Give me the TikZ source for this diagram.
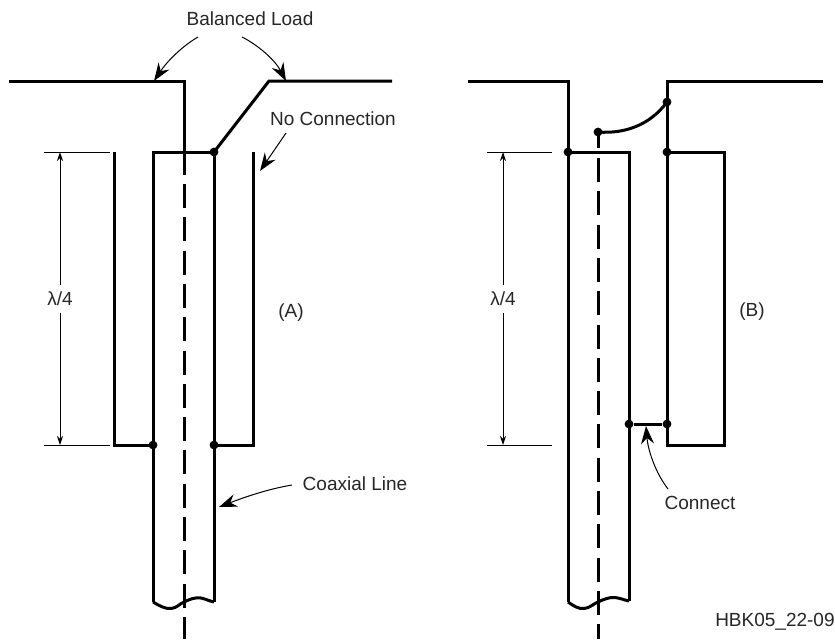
\documentclass[tikz,border=0pt]{standalone}
\usepackage{fontspec}
\setmainfont{Liberation Sans}
\usetikzlibrary{arrows.meta}
\tikzset{every picture/.style={line width=0.75pt}}
\tikzset{
  wall/.style={line width=1.5pt,line join=miter},
  centre/.style={line width=1.5pt,dash pattern=on 12pt off 4.65pt},
  thin line/.style={line width=0.5pt},
  dimline/.style={line width=0.5pt,-{Stealth[length=4.5pt,width=3pt]}},
  callout/.style={line width=0.5pt,-{Stealth[length=9pt,width=6.5pt,inset=3pt]}},
  joint/.style={circle,fill=black,inner sep=0pt,minimum size=4.4pt},
  caption/.style={font=\fontsize{9.5}{11}\selectfont,text=black!85,inner sep=0.75pt},
}

\begin{document}
\begin{tikzpicture}[x=0.5pt,y=0.5pt,yscale=-1,xscale=1]
\useasboundingbox (0,0) rectangle (835,639);

% Diagram A
%Load and inner conductor
\draw [wall] (9,81) -- (184,81) -- (184,175) ;
\draw [centre] (184,184) -- (184,639) ;
\draw [wall] (392,81) -- (269,81) -- (214,152) ;
%Coaxial line
\draw [wall] (153,602) -- (153,152) -- (214,152) -- (214,602) ;
\draw [wall] (153,602) .. controls (160,606) and (165,609) .. (171,608.5) .. controls (177,608) and (179,604) .. (184,602) .. controls (190,599) and (196,597) .. (201,598) .. controls (206,599) and (209,601) .. (214,602) ;
%Sleeve
\draw [wall] (114,152) -- (114,445) -- (153,445) ;
\draw [wall] (253,152) -- (253,445) -- (214,445) ;
\node [joint] (jointA1) at (214,152) {};
\node [joint] (jointA2) at (153,445) {};
\node [joint] (jointA3) at (214,445) {};
%Length
\coordinate (tickA1) at (44,152);
\coordinate (tickA2) at (110,152);
\coordinate (tickA3) at (44,445);
\coordinate (tickA4) at (110,445);
\coordinate (endA1) at (60,152);
\coordinate (endA2) at (60,445);
\draw [thin line] (tickA1) -- (tickA2) ;
\draw [thin line] (tickA3) -- (tickA4) ;
\node [caption,inner sep=3pt] (lenA) at (60,299) {λ/4};
\draw [dimline] (lenA) -- (endA1) ;
\draw [dimline] (lenA) -- (endA2) ;

% Text Node
\node [caption] (balanced) at (250,19) {Balanced Load};
\node [caption] (noconn) at (333,119) {No Connection};
\node [caption] (coax) at (355,484) {Coaxial Line};
\node [caption] (labelA) at (291,313) {(A)};
\coordinate (loadL) at (154,81);
\coordinate (loadR) at (286,81);
\coordinate (sleeveR) at (260,171);
\coordinate (coaxR) at (219,507);
\draw [callout] (198,37) .. controls (184,45) and (168,60) .. (loadL) ;
\draw [callout] (242,37) .. controls (258,45) and (275,60) .. (loadR) ;
\draw [callout] (286,133) -- (sleeveR) ;
\draw [callout] (292,485) .. controls (268,489) and (245,497) .. (coaxR) ;

% Diagram B
%Load and feed
\draw [wall] (468,81) -- (568,81) -- (568,602) ;
\draw [wall] (823,81) -- (667,81) -- (667,445) -- (724,445) -- (724,152) -- (667,152) ;
\draw [wall] (598,132) .. controls (625,134) and (650,125) .. (667,102) ;
%Coaxial line
\draw [wall] (568,152) -- (629,152) -- (629,601) ;
\draw [wall] (568,602) .. controls (574,606) and (578,609) .. (584,608.5) .. controls (590,608) and (593,604) .. (598,602) .. controls (604,599) and (610,597) .. (615,597.5) .. controls (620,598) and (624,600) .. (629,601) ;
\draw [wall] (598,132) -- (598,148) ;
\draw [centre] (598,158) -- (598,639) ;
\node [joint] (jointB1) at (598,132) {};
\node [joint] (jointB2) at (667,102) {};
\node [joint] (jointB3) at (568,152) {};
\node [joint] (jointB4) at (667,152) {};
\node [joint] (jointB5) at (629,424) {};
\node [joint] (jointB6) at (667,424) {};
\draw [wall] (jointB5) -- (jointB6) ;
%Length
\coordinate (tickB1) at (487,152);
\coordinate (tickB2) at (552,152);
\coordinate (tickB3) at (487,445);
\coordinate (tickB4) at (552,445);
\coordinate (endB1) at (503,152);
\coordinate (endB2) at (503,445);
\draw [thin line] (tickB1) -- (tickB2) ;
\draw [thin line] (tickB3) -- (tickB4) ;
\node [caption,inner sep=3pt] (lenB) at (503,299) {λ/4};
\draw [dimline] (lenB) -- (endB1) ;
\draw [dimline] (lenB) -- (endB2) ;

% Text Node
\node [caption] (labelB) at (752,312) {(B)};
\node [caption] (connect) at (700,503) {Connect};
\node [caption,anchor=west] (figno) at (713,622) {HBK05\_22-094};
\coordinate (stub) at (646,426);
\draw [callout] (668,489) .. controls (655,472) and (648,450) .. (stub) ;

\end{tikzpicture}
\end{document}
